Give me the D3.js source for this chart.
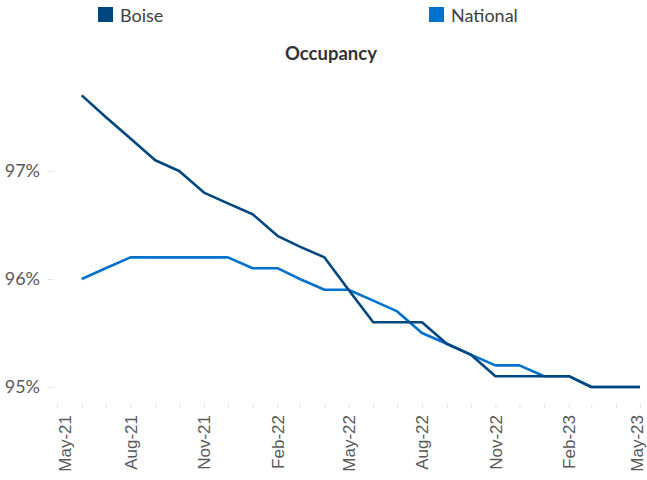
<!DOCTYPE html>
<html>
<head>
<meta charset="utf-8">
<script src="https://cdn.jsdelivr.net/npm/d3@7"></script>
<style>
  body { margin: 0; background: #fff; }
  svg { display: block; }
</style>
</head>
<body>
<div id="chart"></div>
<script>
// monthly occupancy, Jun-21 .. May-23
const months = ["Jun-21","Jul-21","Aug-21","Sep-21","Oct-21","Nov-21","Dec-21","Jan-22",
  "Feb-22","Mar-22","Apr-22","May-22","Jun-22","Jul-22","Aug-22","Sep-22","Oct-22","Nov-22",
  "Dec-22","Jan-23","Feb-23","Mar-23","Apr-23","May-23"];
const boise = [97.7,97.5,97.3,97.1,97.0,96.8,96.7,96.6,96.4,96.3,96.2,95.9,
  95.6,95.6,95.6,95.4,95.3,95.1,95.1,95.1,95.1,95.0,95.0,95.0];
const national = [96.0,96.1,96.2,96.2,96.2,96.2,96.2,96.1,96.1,96.0,95.9,95.9,
  95.8,95.7,95.5,95.4,95.3,95.2,95.2,95.1,95.1,95.0,95.0,95.0];
const yTicks = [95, 96, 97];
const axisStart = "May-21", axisEnd = "May-23";

const parse = d3.timeParse("%b-%y");
const width = 647, height = 480;

const svg = d3.select("#chart").append("svg")
  .attr("width", width)
  .attr("height", height);

const x = d3.scaleTime()
  .domain([parse(axisStart), parse(axisEnd)])
  .range([57, 640]);

const y = d3.scaleLinear()
  .domain([95, 97])
  .range([387, 171]);

// y axis: labels + faint ticks, no line
const yAxis = svg.append("g")
  .attr("transform", "translate(53,0)")
  .call(d3.axisLeft(y).tickValues(yTicks).tickSize(5).tickPadding(8).tickFormat(d => d + "%"));
yAxis.select(".domain").remove();
yAxis.selectAll(".tick line").attr("stroke", "#e3e3e3");
yAxis.selectAll("text")
  .attr("fill", "#595959")
  .style("font-family", "Lato, 'Open Sans', sans-serif")
  .style("font-size", "18px");

// x axis: monthly tick marks, labels every 3 months
const xAxis = svg.append("g")
  .attr("transform", "translate(0,404)")
  .call(d3.axisBottom(x)
    .ticks(d3.timeMonth.every(1))
    .tickSize(4)
    .tickFormat(d => d.getMonth() % 3 === 1 ? d3.timeFormat("%b-%y")(d) : ""));
xAxis.select(".domain").remove();
xAxis.selectAll(".tick line").attr("stroke", "#e3e3e3");
const xLabels = xAxis.selectAll("text")
  .attr("fill", "#595959")
  .style("font-family", "'Liberation Sans', Arial, sans-serif")
  .style("font-size", "17px")
  .attr("text-anchor", "end")
  .attr("transform", "rotate(-90)")
  .attr("x", -11)
  .attr("y", 0)
  .attr("dy", "0.35em");
// excel nudges the end labels inward a bit
const nLabels = xLabels.size();
xLabels.filter((d, i) => i === 0).attr("y", 8);
xLabels.filter((d, i) => i === nLabels - 1).attr("y", -3);

const line = d3.line()
  .x((d, i) => x(parse(months[i])))
  .y(d => y(d));

const series = [
  { name: "Boise", values: boise, color: "#00477f" },
  { name: "National", values: national, color: "#0071cd" }
];

// national drawn first so boise sits on top
svg.append("path")
  .datum(national)
  .attr("fill", "none")
  .attr("stroke", series[1].color)
  .attr("stroke-width", 2.6)
  .attr("stroke-linejoin", "round")
  .attr("d", line);

svg.append("path")
  .datum(boise)
  .attr("fill", "none")
  .attr("stroke", series[0].color)
  .attr("stroke-width", 2.6)
  .attr("stroke-linejoin", "round")
  .attr("d", line);

// legend
const legendX = [98, 429];
const legend = svg.selectAll(".legend")
  .data(series)
  .enter().append("g")
  .attr("transform", (d, i) => `translate(${legendX[i]},7)`);

legend.append("rect")
  .attr("width", 15)
  .attr("height", 15)
  .attr("fill", d => d.color);

legend.append("text")
  .attr("x", 22)
  .attr("y", 15)
  .attr("fill", "#404040")
  .style("font-family", "Lato, 'Open Sans', sans-serif")
  .style("font-size", "18px")
  .text(d => d.name);

svg.append("text")
  .attr("x", 331)
  .attr("y", 60)
  .attr("text-anchor", "middle")
  .attr("fill", "#333")
  .style("font-family", "Lato, 'Open Sans', sans-serif")
  .style("font-weight", "bold")
  .style("font-size", "18.5px")
  .text("Occupancy");
</script>
</body>
</html>
